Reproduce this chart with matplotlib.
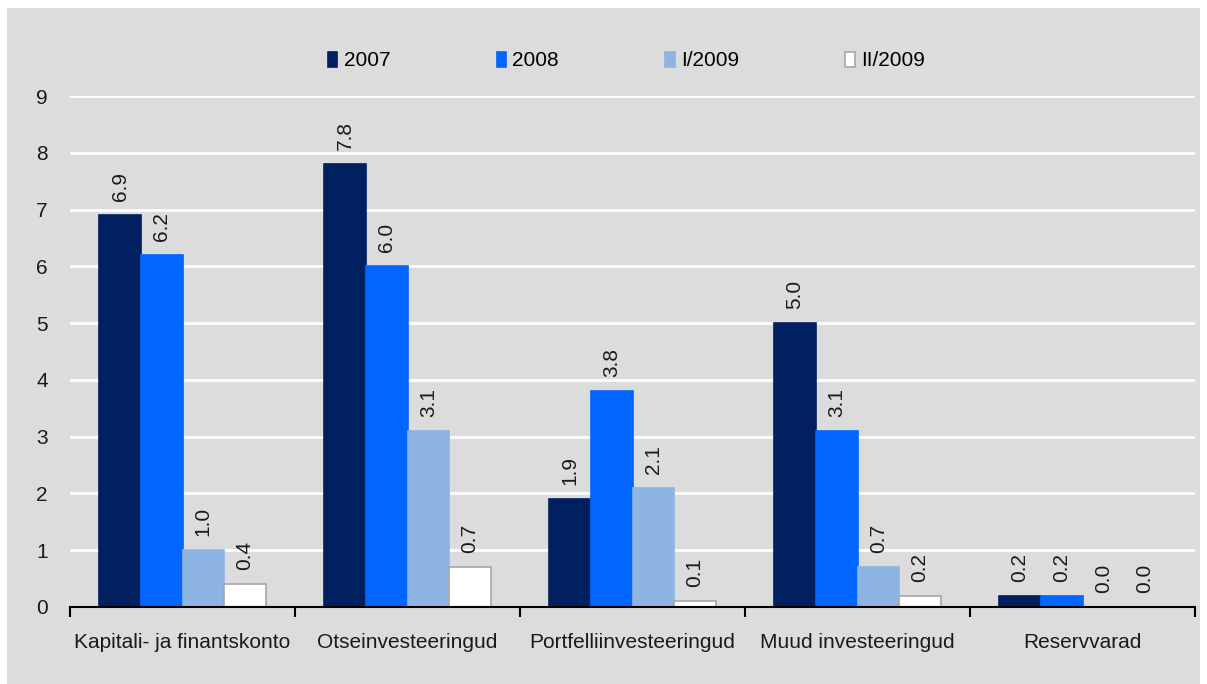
import numpy as np
import matplotlib.pyplot as plt
from matplotlib.patches import Rectangle

plt.rcParams["font.family"] = ["Liberation Sans", "DejaVu Sans"]

categories = [
    "Kapitali- ja finantskonto",
    "Otseinvesteeringud",
    "Portfelliinvesteeringud",
    "Muud investeeringud",
    "Reservvarad",
]
series_names = ["2007", "2008", "I/2009", "II/2009"]
v2007 = [6.9, 7.8, 1.9, 5.0, 0.2]
v2008 = [6.2, 6.0, 3.8, 3.1, 0.2]
v2009_1 = [1.0, 3.1, 2.1, 0.7, 0.0]
v2009_2 = [0.4, 0.7, 0.1, 0.2, 0.0]

colors = ["#002060", "#0066FF", "#8EB4E3", "#FFFFFF"]
edges = ["#002060", "#0066FF", "#8EB4E3", "#A6A6A6"]
bg = "#DCDCDC"
txt = "#1a1a1a"

fig = plt.figure(figsize=(12.07, 6.84), dpi=100)
fig.patch.set_facecolor("white")
fig.patches.append(Rectangle((7 / 1207, 0), 1193 / 1207, 676 / 684,
                             transform=fig.transFigure, facecolor=bg,
                             edgecolor="none", zorder=-10))

ax = fig.add_axes([70 / 1207, 1 - 607 / 684, 1125 / 1207, (607 - 96) / 684])
ax.set_facecolor(bg)

x = np.arange(len(categories))
width = 0.185
all_vals = [v2007, v2008, v2009_1, v2009_2]
for i, (vals, name) in enumerate(zip(all_vals, series_names)):
    pos = x + (i - 1.5) * width
    ax.bar(pos, vals, width, color=colors[i], edgecolor=edges[i],
           linewidth=1.2, label=name, zorder=3)
    for px, v in zip(pos, vals):
        ax.annotate(f"{v:.1f}", (px, v), xytext=(0, 10),
                    textcoords="offset points", rotation=90,
                    ha="center", va="bottom", fontsize=15, color=txt)

ax.set_xlim(-0.5, len(categories) - 0.5)
ax.set_ylim(0, 9)
ax.set_yticks(range(10))
ax.yaxis.grid(True, color="white", linewidth=2, zorder=1)
ax.set_axisbelow(True)
for s in ["top", "right", "left"]:
    ax.spines[s].set_visible(False)
ax.spines["bottom"].set_linewidth(1.5)
ax.spines["bottom"].set_zorder(4)

ax.set_xticks(x)
ax.set_xticklabels(categories, fontsize=15, color=txt)
ax.tick_params(axis="x", length=0, pad=19)
ax.set_xticks(np.arange(-0.5, len(categories)), minor=True)
ax.tick_params(axis="x", which="minor", length=7, width=1.5, direction="out")
ax.tick_params(axis="y", length=0, pad=16, labelsize=15, labelcolor=txt)

ax.legend(loc="center", bbox_to_anchor=(0.4947, 1.0685), ncol=4,
          frameon=False, fontsize=15, handlelength=0.46, handleheight=0.72,
          handletextpad=0.3, columnspacing=5.1, borderpad=0)

fig.savefig("out.png", dpi=100, facecolor=fig.get_facecolor())
